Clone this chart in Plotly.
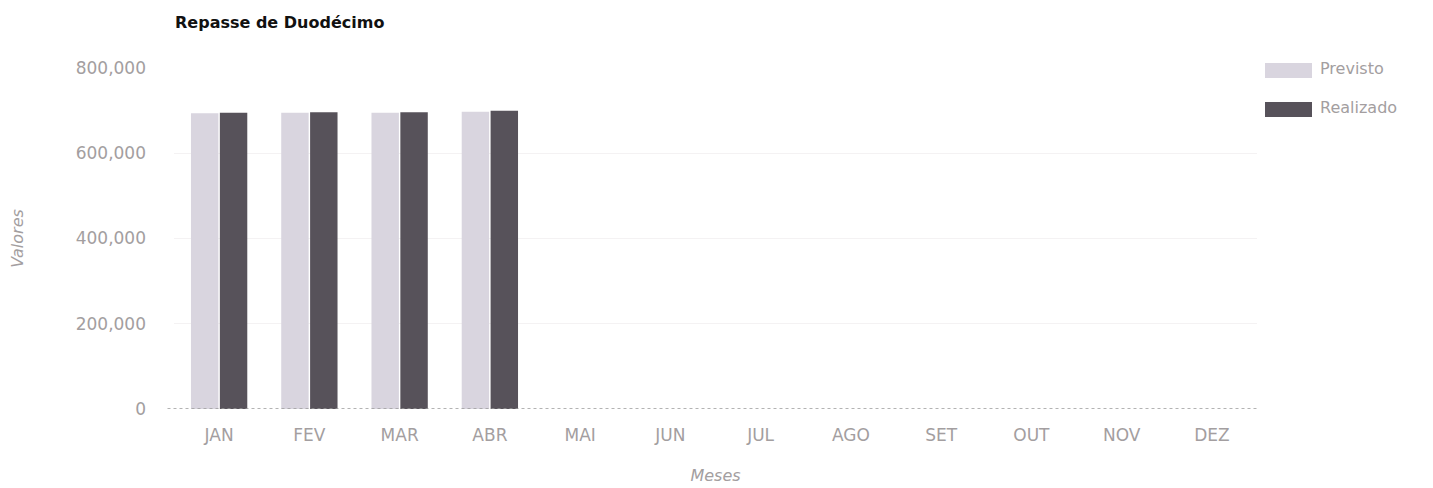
import plotly.graph_objects as go

meses = ["JAN", "FEV", "MAR", "ABR", "MAI", "JUN", "JUL", "AGO", "SET", "OUT", "NOV", "DEZ"]
previsto = [694000, 695000, 695000, 697500, 0, 0, 0, 0, 0, 0, 0, 0]
realizado = [695000, 696000, 696000, 700000, 0, 0, 0, 0, 0, 0, 0, 0]
y_ticks = [0, 200000, 400000, 600000, 800000]
y_tick_labels = ["0", "200,000", "400,000", "600,000", "800,000"]

c_prev = "#d9d5df"
c_real = "#57525a"
grey = "#a39ea0"
font_family = "DejaVu Sans, Liberation Sans, Arial, sans-serif"

# page-pixel geometry of the plot area (page includes 8px body margin)
PL, PR, PT, PB = 174, 1257, 68, 409.5


def px(xp):
    return (xp - PL) / (PR - PL)


def py(yp):
    return (PB - yp) / (PB - PT)


fig = go.Figure()
fig.add_trace(go.Bar(name="Previsto", x=meses, y=previsto, marker_color=c_prev,
                     marker_line_width=0, showlegend=False))
fig.add_trace(go.Bar(name="Realizado", x=meses, y=realizado, marker_color=c_real,
                     marker_line_width=0, showlegend=False))

# custom legend (swatches + labels)
legend_items = [("Previsto", c_prev, 70.5, 68.5), ("Realizado", c_real, 109.5, 107.5)]
shapes = []
annotations = []
for name, col, ysw, ytx in legend_items:
    shapes.append(dict(type="rect", xref="paper", yref="paper",
                       x0=px(1265), x1=px(1312), y0=py(ysw + 7.5), y1=py(ysw - 7.5),
                       fillcolor=col, line_width=0))
    annotations.append(dict(text=name, xref="paper", yref="paper",
                            x=px(1318), y=py(ytx),
                            xanchor="left", yanchor="middle", showarrow=False,
                            font=dict(family=font_family, size=16, color=grey)))

# dotted baseline
shapes.append(dict(type="line", xref="paper", yref="y", x0=-0.006, x1=1, y0=0, y1=0,
                   line=dict(color="#9a9a9a", width=1.5, dash="dot")))

fig.update_layout(
    width=1433, height=488,
    margin=dict(l=PL - 8, r=1441 - PR, t=PT - 8, b=488 - (PB - 8)),
    paper_bgcolor="white", plot_bgcolor="white",
    barmode="group", bargap=0.36, bargroupgap=0.05,
    title=dict(text="<b>Repasse de Duodécimo</b>", x=(175 - 8) / 1433, xanchor="left",
               y=1 - (22 - 8) / 488, yanchor="middle",
               font=dict(family=font_family, size=16, color="#111111")),
    font=dict(family=font_family, color=grey),
    shapes=shapes, annotations=annotations,
    xaxis=dict(showgrid=False, showline=False, ticks="", automargin=False,
               tickfont=dict(size=17, color=grey), ticklabelstandoff=14,
               title=dict(text="<i>Meses</i>", font=dict(size=16, color=grey), standoff=25)),
    yaxis=dict(range=[0, 800000], tickvals=y_ticks, ticktext=y_tick_labels, automargin=False,
               showgrid=True, gridcolor="#f4f2f3", zeroline=False, showline=False,
               tickfont=dict(size=17, color=grey), ticklabelstandoff=27,
               title=dict(text="<i>Valores</i>", font=dict(size=16, color=grey), standoff=52)),
)

fig.write_html("out.html")
